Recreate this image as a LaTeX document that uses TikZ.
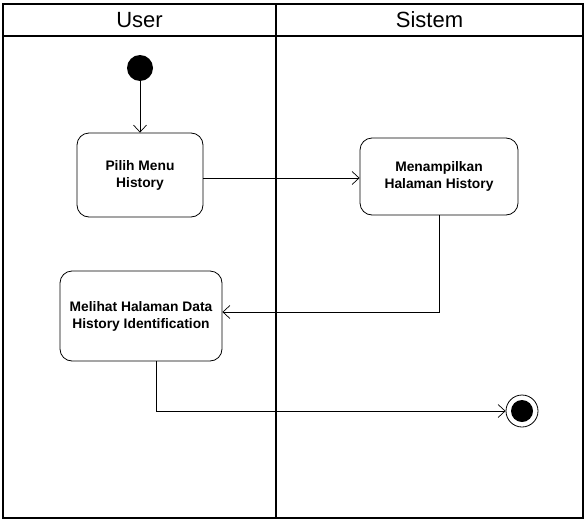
\documentclass[tikz,border=0pt]{standalone}
\usepackage{fontspec}
\setmainfont{Liberation Sans}
\usetikzlibrary{positioning, arrows.meta}

\begin{document}
\begin{tikzpicture}[x=1pt, y=-1pt,
  act/.style={draw, rounded corners=12pt, align=center, line width=0.8pt,
              font=\bfseries\fontsize{13.8}{17}\selectfont},
  arrow/.style={-{Straight Barb[length=7pt,width=13pt]}, line width=0.7pt},
  lane/.style={draw, line width=1.8pt},
  title/.style={font=\fontsize{22}{26}\selectfont}]
  \useasboundingbox (0,0) rectangle (585,522);
  \draw[lane] (3,4) rectangle (583,518);
  \draw[line width=1.3pt] (3,36) -- (583,36);
  \draw[line width=2.6pt] (276,4) -- (276,518);
  \node[title] (user) at (139.5,20) {User};
  \node[title] (sistem) at (429.5,20) {Sistem};
  \node[circle, fill, inner sep=0pt, minimum size=26pt] (start) at (140,68) {};
  \node[act, minimum width=126pt, minimum height=84pt] (pilih) at (140,175) {Pilih Menu\\History};
  \node[act, minimum width=158pt, minimum height=77pt] (tampil) at (439,176.5) {Menampilkan\\Halaman History};
  \node[act, minimum width=162pt, minimum height=90pt] (melihat) at (141,316) {Melihat Halaman Data\\History Identification};
  \node[circle, draw, line width=0.8pt, inner sep=0pt, minimum size=32pt] (end) at (522,411) {};
  \node[circle, fill, inner sep=0pt, minimum size=22pt] (endin) at (end) {};
  \draw[arrow] (start) -- (pilih);
  \draw[arrow] ([yshift=-3pt]pilih.east) -- ([yshift=-3pt]pilih.east -| tampil.west);
  \draw[arrow] (tampil.south) |- ([yshift=4pt]melihat.east);
  \draw[arrow] ([xshift=15pt]melihat.south) |- (end);
\end{tikzpicture}
\end{document}
